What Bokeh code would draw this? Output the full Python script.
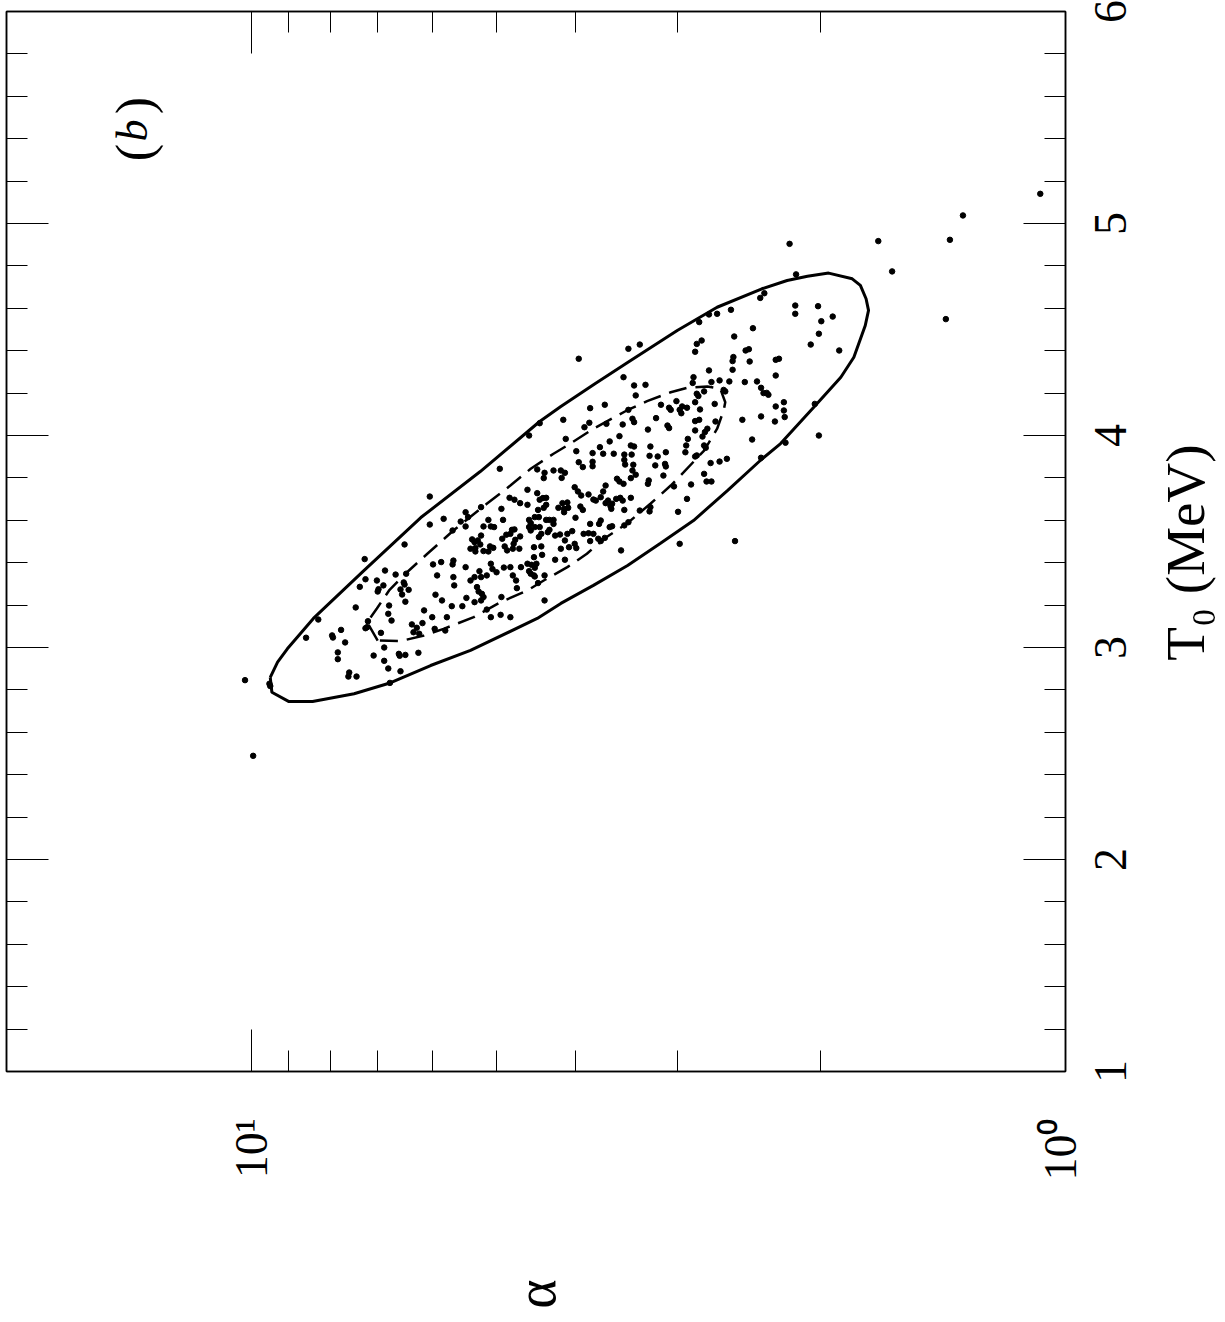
import numpy as np
from bokeh.plotting import figure
from bokeh.layouts import row
from bokeh.models import Range1d, FixedTicker, LinearAxis, LogAxis, Label
from bokeh.core.properties import value
from bokeh.embed import file_html
from bokeh.resources import INLINE

# Monte-Carlo fit samples: log10(alpha) and T0 [MeV]
log_alpha = [
    0.812, 0.861, 0.836, 0.860, 0.846, 0.823, 0.810, 0.867, 0.844, 0.845, 0.838, 0.813, 0.812, 0.817, 0.807,
    0.815, 0.811, 0.872, 0.918, 0.831, 0.832, 0.828, 0.857, 0.860, 0.858, 0.841, 0.890, 0.901, 0.900, 0.933,
    0.885, 0.837, 0.850, 0.837, 0.894, 0.894, 0.832, 0.817, 0.819, 0.818, 0.811, 0.795, 0.880, 0.881, 0.871,
    1.008, 0.978, 0.977, 0.998, 0.830, 0.803, 0.797, 0.801, 0.794, 0.790, 0.775, 0.762,
    0.646, 0.591, 0.585, 0.564, 0.544, 0.530, 0.659, 0.614, 0.548, 0.560, 0.572, 0.534, 0.530, 0.601, 0.581,
    0.568, 0.555, 0.542, 0.533, 0.598, 0.581, 0.581, 0.593, 0.542, 0.541, 0.531, 0.532, 0.695, 0.649, 0.640,
    0.641, 0.629, 0.620, 0.615, 0.619, 0.551, 0.548, 0.534, 0.528, 0.543, 0.781, 0.603, 0.599, 0.595, 0.586,
    0.568, 0.565, 0.580, 0.577, 0.571, 0.552, 0.547, 0.544, 0.534, 0.661, 0.649, 0.646, 0.642, 0.638, 0.683,
    0.693, 0.677, 0.670, 0.661, 0.638, 0.641, 0.648, 0.623, 0.618, 0.612, 0.616, 0.611, 0.616, 0.596, 0.593,
    0.565, 0.562, 0.559, 0.557, 0.558, 0.542, 0.523, 0.718, 0.737, 0.734, 0.764, 0.781, 0.743, 0.737, 0.753,
    0.709, 0.715, 0.706, 0.702, 0.691, 0.652, 0.647, 0.659, 0.657, 0.638, 0.634, 0.629, 0.602, 0.680, 0.677,
    0.682, 0.687, 0.718, 0.692, 0.676, 0.678, 0.670, 0.659, 0.657, 0.652, 0.646, 0.644, 0.647, 0.636, 0.634,
    0.629, 0.627, 0.621, 0.612, 0.606, 0.615, 0.592, 0.586, 0.580, 0.584, 0.573, 0.571, 0.560, 0.557, 0.542,
    0.537, 0.566, 0.571, 0.584, 0.574, 0.644, 0.620, 0.610, 0.603, 0.601, 0.546, 0.729, 0.726, 0.722, 0.719,
    0.731, 0.725, 0.725, 0.707, 0.703, 0.709, 0.715, 0.689, 0.686, 0.679, 0.671, 0.653, 0.653, 0.643, 0.627,
    0.615, 0.752, 0.753, 0.767, 0.777, 0.737, 0.720, 0.706, 0.704, 0.699, 0.690, 0.682, 0.669, 0.661, 0.656,
    0.652, 0.650, 0.772, 0.752, 0.726, 0.718, 0.711, 0.679, 0.657, 0.653, 0.640, 0.659, 0.652, 0.675, 0.731,
    0.751, 0.674, 0.648, 0.723, 0.721, 0.717, 0.715, 0.718, 0.726, 0.736, 0.766, 0.774, 0.741, 0.754, 0.788,
    0.711, 0.693, 0.694, 0.682, 0.706, 0.778, 0.760, 0.640,
    0.407, 0.453, 0.447, 0.455, 0.393, 0.389, 0.388, 0.408, 0.409, 0.409, 0.356, 0.352, 0.356, 0.394, 0.379,
    0.413, 0.425, 0.438, 0.457, 0.458, 0.435, 0.420, 0.418, 0.444, 0.453, 0.451, 0.374, 0.371, 0.367, 0.365,
    0.356, 0.537, 0.523, 0.598, 0.543, 0.530, 0.516, 0.528, 0.566, 0.584, 0.617, 0.497, 0.487, 0.485, 0.478,
    0.474, 0.472, 0.471, 0.465, 0.455, 0.449, 0.431, 0.503, 0.537, 0.532, 0.450, 0.455, 0.430, 0.397, 0.374,
    0.357, 0.489, 0.487, 0.513, 0.440, 0.455, 0.443, 0.446, 0.464, 0.385, 0.466, 0.444, 0.442, 0.453, 0.455,
    0.467, 0.436, 0.425, 0.416, 0.374, 0.510, 0.491, 0.501, 0.511, 0.504, 0.492, 0.491, 0.494, 0.444, 0.460,
    0.441, 0.435, 0.512, 0.513, 0.481, 0.465, 0.510, 0.511, 0.476, 0.474, 0.406,
    0.031, 0.126, 0.142, 0.230, 0.213, 0.339, 0.331, 0.375, 0.370, 0.332, 0.332, 0.304, 0.300, 0.286, 0.303,
    0.313, 0.278, 0.147, 0.308, 0.303, 0.344, 0.346, 0.346, 0.345, 0.450, 0.438, 0.428, 0.411, 0.384,
]
t0 = [
    3.486, 3.417, 3.363, 3.322, 3.316, 3.344, 3.348, 3.286, 3.275, 3.264, 3.293, 3.307, 3.297, 3.274, 3.272,
    3.250, 3.216, 3.189, 3.132, 3.198, 3.159, 3.127, 3.124, 3.091, 3.096, 3.069, 3.083, 3.057, 3.047, 3.046,
    3.024, 3.000, 2.962, 2.937, 2.977, 2.945, 2.901, 2.888, 2.970, 2.961, 2.965, 2.975, 2.882, 2.863, 2.863,
    2.846, 2.829, 2.818, 2.489, 2.833, 3.109, 3.093, 3.072, 3.065, 3.115, 3.088, 3.080,
    4.058, 4.039, 4.060, 4.055, 4.052, 4.063, 4.000, 3.984, 3.997, 3.972, 3.945, 3.953, 3.948, 3.926, 3.917,
    3.914, 3.914, 3.910, 3.910, 3.874, 3.876, 3.855, 3.851, 3.885, 3.863, 3.862, 3.835, 3.843, 3.840, 3.824,
    3.799, 3.835, 3.835, 3.824, 3.800, 3.796, 3.783, 3.799, 3.815, 3.772, 3.712, 3.756, 3.736, 3.717, 3.722,
    3.736, 3.764, 3.698, 3.693, 3.709, 3.701, 3.706, 3.693, 3.706, 3.744, 3.728, 3.697, 3.705, 3.706, 3.706,
    3.654, 3.697, 3.681, 3.673, 3.673, 3.659, 3.649, 3.659, 3.681, 3.684, 3.654, 3.659, 3.638, 3.665, 3.649,
    3.681, 3.693, 3.667, 3.678, 3.654, 3.649, 3.646, 3.662, 3.638, 3.615, 3.607, 3.580, 3.594, 3.571, 3.552,
    3.602, 3.571, 3.571, 3.568, 3.602, 3.615, 3.615, 3.602, 3.587, 3.602, 3.602, 3.602, 3.612, 3.555, 3.557,
    3.536, 3.532, 3.528, 3.513, 3.508, 3.489, 3.524, 3.568, 3.552, 3.568, 3.568, 3.536, 3.521, 3.544, 3.555,
    3.583, 3.528, 3.533, 3.536, 3.549, 3.505, 3.536, 3.539, 3.536, 3.583, 3.583, 3.599, 3.568, 3.572, 3.576,
    3.591, 3.517, 3.502, 3.502, 3.513, 3.477, 3.466, 3.473, 3.489, 3.469, 3.458, 3.510, 3.497, 3.505, 3.486,
    3.466, 3.469, 3.453, 3.477, 3.470, 3.453, 3.455, 3.477, 3.458, 3.466, 3.466, 3.473, 3.426, 3.437, 3.414,
    3.414, 3.410, 3.392, 3.403, 3.392, 3.379, 3.360, 3.395, 3.370, 3.355, 3.377, 3.379, 3.379, 3.395, 3.390,
    3.376, 3.395, 3.340, 3.332, 3.332, 3.332, 3.340, 3.340, 3.348, 3.340, 3.340, 3.360, 3.335, 3.316, 3.316,
    3.293, 3.280, 3.304, 3.285, 3.264, 3.253, 3.238, 3.222, 3.214, 3.234, 3.222, 3.249, 3.195, 3.195, 3.175,
    3.179, 3.238, 3.154, 3.143, 3.143, 3.143, 3.143, 3.222,
    4.467, 4.432, 4.448, 4.395, 4.401, 4.407, 4.349, 4.370, 4.351, 4.310, 4.357, 4.362, 4.283, 4.252, 4.255,
    4.255, 4.260, 4.307, 4.275, 4.248, 4.252, 4.215, 4.208, 4.208, 4.197, 4.186, 4.225, 4.200, 4.201, 4.192,
    4.137, 4.409, 4.429, 4.362, 4.275, 4.236, 4.239, 4.189, 4.145, 4.129, 4.074, 4.145, 4.131, 4.121, 4.162,
    4.121, 4.105, 4.137, 4.131, 4.157, 4.123, 4.149, 4.082, 4.121, 4.079, 4.074, 4.068, 4.066, 4.074, 4.090,
    4.066, 4.047, 4.035, 4.028, 4.032, 4.024, 4.016, 3.995, 3.984, 3.981, 3.953, 3.953, 3.942, 3.906, 3.901,
    3.921, 3.870, 3.877, 3.890, 3.895, 3.948, 3.921, 3.901, 3.904, 3.859, 3.866, 3.854, 3.811, 3.819, 3.769,
    3.783, 3.783, 3.788, 3.772, 3.760, 3.701, 3.662, 3.642, 3.640, 3.489, 3.502,
    5.140, 5.038, 4.923, 4.917, 4.774, 4.904, 4.760, 4.649, 4.671, 4.613, 4.574, 4.610, 4.539, 4.561, 4.480,
    4.429, 4.401, 4.549, 4.149, 4.000, 3.966, 4.157, 4.118, 4.087, 4.535, 4.571, 4.574, 4.593, 4.506,
]

# Outer (solid) confidence contour
outer_log_alpha = [
    0.977, 0.968, 0.956, 0.924, 0.862, 0.792, 0.719, 0.646, 0.620, 0.579, 0.538, 0.477, 0.428, 0.373,
    0.342, 0.317, 0.291, 0.262, 0.252, 0.245, 0.242, 0.246, 0.260, 0.276, 0.309, 0.350, 0.375, 0.415,
    0.457, 0.498, 0.538, 0.580, 0.620, 0.649, 0.731, 0.780, 0.829, 0.874, 0.925, 0.954, 0.975,
]
outer_t0 = [
    2.859, 2.931, 2.994, 3.137, 3.363, 3.613, 3.830, 4.066, 4.137, 4.242, 4.344, 4.495, 4.605, 4.692,
    4.731, 4.751, 4.766, 4.739, 4.708, 4.645, 4.590, 4.519, 4.369, 4.275, 4.134, 3.962, 3.882, 3.741,
    3.599, 3.491, 3.387, 3.293, 3.208, 3.137, 2.986, 2.915, 2.834, 2.782, 2.745, 2.745, 2.789,
]

# Inner (dashed) confidence contour
inner_log_alpha = [
    0.845, 0.858, 0.846, 0.831, 0.811, 0.784, 0.752, 0.711, 0.682, 0.657, 0.629, 0.612, 0.580, 0.539,
    0.514, 0.485, 0.465, 0.440, 0.424, 0.418, 0.420, 0.428, 0.444, 0.469, 0.485, 0.510, 0.539, 0.567,
    0.588, 0.612, 0.641, 0.661, 0.694, 0.727, 0.764, 0.788, 0.817,
]
inner_t0 = [
    3.033, 3.119, 3.184, 3.269, 3.348, 3.442, 3.552, 3.678, 3.764, 3.843, 3.914, 3.953, 4.032, 4.118,
    4.162, 4.204, 4.225, 4.231, 4.220, 4.157, 4.118, 4.032, 3.929, 3.827, 3.764, 3.678, 3.584, 3.513,
    3.442, 3.379, 3.316, 3.269, 3.214, 3.143, 3.088, 3.057, 3.030,
]

# Axis ticks
alpha_major = [1, 10]
alpha_minor = [2, 3, 4, 5, 6, 7, 8, 9]
alpha_labels = {1: "10\u2070", 10: "10\u00b9"}
t0_major = [1, 2, 3, 4, 5, 6]
t0_minor = [1.2, 1.4, 1.6, 1.8, 2.2, 2.4, 2.6, 2.8, 3.2, 3.4, 3.6, 3.8,
            4.2, 4.4, 4.6, 4.8, 5.2, 5.4, 5.6, 5.8]
t0_title = "T\u2080  (MeV)"

FONT = "Liberation Serif"
SIDEWAYS = np.pi / 2

# page geometry (pixels)
PAGE_H = 1322
MAIN_W, SIDE_W = 1085, 140
BORDER_TOP, BORDER_BOTTOM = 11, 251
T0_LO, T0_HI = 1, 6

alpha = 10.0 ** np.asarray(log_alpha)
outer_alpha = 10.0 ** np.r_[outer_log_alpha, outer_log_alpha[0]]
outer_t = np.r_[outer_t0, outer_t0[0]]
inner_alpha = 10.0 ** np.r_[inner_log_alpha, inner_log_alpha[0]]
inner_t = np.r_[inner_t0, inner_t0[0]]

p = figure(
    width=MAIN_W, height=PAGE_H,
    x_axis_type="log", x_range=Range1d(20, 1), y_range=Range1d(T0_LO, T0_HI),
    x_axis_location="below", y_axis_location="right",
    output_backend="svg", toolbar_location=None,
    min_border_left=6, min_border_top=BORDER_TOP,
    min_border_right=MAIN_W - 1065, min_border_bottom=BORDER_BOTTOM,
)
p.xgrid.visible = False
p.ygrid.visible = False
p.outline_line_color = "black"
p.outline_line_width = 1.5
p.background_fill_color = "white"
p.border_fill_color = "white"

p.add_layout(LogAxis(), "above")
p.add_layout(LinearAxis(), "left")


def style_axis(ax, ticks, minor, labels):
    ax.ticker = FixedTicker(ticks=ticks, minor_ticks=minor)
    ax.major_tick_in = 42
    ax.major_tick_out = 0
    ax.minor_tick_in = 21
    ax.minor_tick_out = 0
    ax.major_tick_line_color = "black"
    ax.minor_tick_line_color = "black"
    ax.major_tick_line_width = 1
    ax.minor_tick_line_width = 1
    ax.axis_line_color = "black"
    ax.axis_line_width = 1.5
    ax.axis_label = None
    ax.major_label_text_font = FONT
    ax.major_label_text_color = "black"
    ax.major_label_text_font_size = "46px"
    ax.major_label_orientation = SIDEWAYS
    if labels is None:
        # tick marks only on this side
        ax.major_label_overrides = {t: "" for t in ticks}
        ax.major_label_standoff = 0
    else:
        ax.major_label_overrides = labels


style_axis(p.below[0], alpha_major, alpha_minor, alpha_labels)
style_axis(p.above[0], alpha_major, alpha_minor, None)
style_axis(p.right[0], t0_major, t0_minor, None)
style_axis(p.left[0], t0_major, t0_minor, None)

xb = p.below[0]
xb.major_label_standoff = 47
xb.axis_label = "\u03b1"
xb.axis_label_text_font = FONT
xb.axis_label_text_font_size = "56px"
xb.axis_label_text_font_style = "normal"
xb.axis_label_text_color = "black"
xb.axis_label_standoff = 96
try:
    xb.axis_label_orientation = SIDEWAYS
except AttributeError:
    pass

# contours and samples
p.line(outer_alpha, outer_t, line_color="black", line_width=3)
p.line(inner_alpha, inner_t, line_color="black", line_width=2.5, line_dash="18 9")
p.scatter(alpha, t0, size=5.5, color="black")


# panel tag, written sideways like the axis text
def add_text(text, x, y, size="40px", style="normal"):
    p.add_layout(Label(x=x, y=y, x_units="screen", y_units="screen", text=text,
                       angle=SIDEWAYS, text_align="center", text_baseline="middle",
                       text_font=FONT, text_font_size=size, text_font_style=style,
                       text_color="black"))


add_text("(", 128, 919, size="52px")
add_text("b", 126, 941, size="44px", style="italic")
add_text(")", 128, 966, size="52px")

# Strip to the right of the panel carrying the T0 tick numbers and title,
# on the same vertical T0 scale as the panel.
side = figure(
    width=SIDE_W, height=PAGE_H, x_range=Range1d(0, SIDE_W), y_range=Range1d(T0_LO, T0_HI),
    x_axis_location=None, y_axis_location=None,
    output_backend="svg", toolbar_location=None, min_border=0,
)
try:
    # let the strip's frame fill its whole height, so the end numbers are not cut
    side.frame_align = False
    px_per_t0 = (PAGE_H - BORDER_TOP - BORDER_BOTTOM) / (T0_HI - T0_LO)
    side.y_range = Range1d(T0_HI - (PAGE_H - BORDER_TOP) / px_per_t0, T0_HI + BORDER_TOP / px_per_t0)
except AttributeError:
    side.y_range = p.y_range
side.grid.visible = False
side.outline_line_color = None
side.background_fill_color = "white"
side.border_fill_color = "white"

side.text(x=[25] * len(t0_major), y=t0_major, text=[str(t) for t in t0_major],
          angle=SIDEWAYS, text_align="center", text_baseline="middle",
          text_font=value(FONT), text_font_size="46px", text_color="black")
side.text(x=[100], y=[(T0_LO + T0_HI) / 2 - 0.02], text=[t0_title],
          angle=SIDEWAYS, text_align="center", text_baseline="middle",
          text_font=value(FONT), text_font_size="55px", text_color="black")

layout = row(p, side, spacing=0)
open("out.html", "w").write(file_html(layout, INLINE))
